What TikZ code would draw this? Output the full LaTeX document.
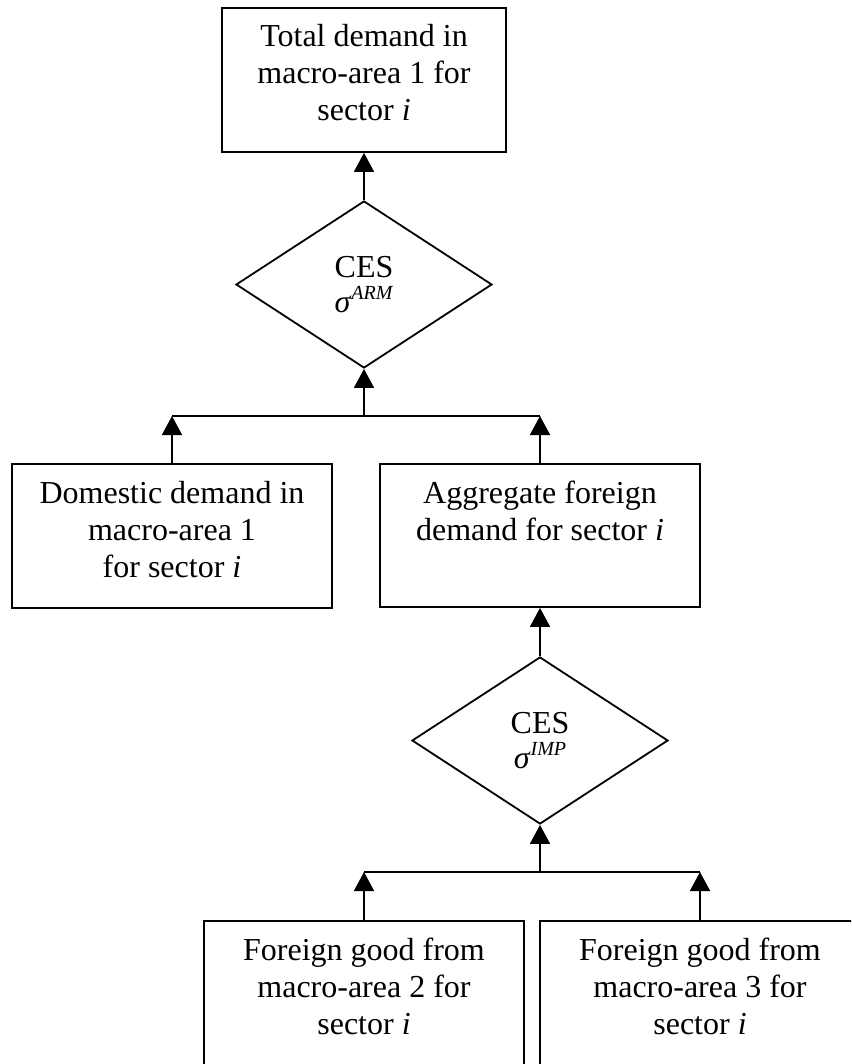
\documentclass[tikz,border=0pt]{standalone}
\usepackage{fontspec}
\setmainfont{Liberation Serif}
\usetikzlibrary{arrows.meta,shapes.geometric}
\newcommand\boxtext[3]{\parbox[c][#2pt][t]{#1pt}{\centering\rule{0pt}{39pt}#3\par}}
\newcommand\supr[1]{\raisebox{13pt}{\fontsize{20}{20}\selectfont\textit{#1}}}
\begin{document}
\begin{tikzpicture}[x=1pt,y=-1pt,
  line/.style={line width=1.8pt},
  arr/.style={line, -{Triangle[width=20pt,length=19pt]}},
  box/.style={draw, line width=1.8pt, inner sep=0pt, font=\fontsize{32}{37}\selectfont},
  ces/.style={draw, diamond, line width=1.8pt, inner sep=0pt, minimum width=256pt, minimum height=167pt, align=center, font=\fontsize{32}{35}\selectfont}]
\useasboundingbox (0,0) rectangle (851,1064);
\clip (0,0) rectangle (851,1064);

\node[box] (T) at (364,80) {\boxtext{284}{144}{Total demand in\\macro-area 1 for\\sector \textit{i}}};
\node[ces] (C1) at (364,284.5) {CES\\\textit{σ}\supr{ARM}};
\node[box] (D) at (172,536) {\boxtext{320}{144}{Domestic demand in\\macro-area 1\\for sector \textit{i}}};
\node[box] (A) at (540,535.5) {\boxtext{320}{143}{Aggregate foreign\\demand for sector \textit{i}}};
\node[ces] (C2) at (540,740.5) {CES\\\textit{σ}\supr{IMP}};
\node[box] (F1) at (364,996) {\boxtext{320}{150}{Foreign good from\\macro-area 2 for\\sector \textit{i}}};
\node[box] (F2) at (700,996) {\boxtext{320}{150}{Foreign good from\\macro-area 3 for\\sector \textit{i}}};

\coordinate (J1) at (364,416);
\coordinate (J2) at (540,872);

\draw[arr] (C1.north) -- (T.south);
\draw[arr] (J1) -- (C1.south);
\draw[line] (D.north |- J1) -- (A.north |- J1);
\draw[arr] (D.north) -- (D.north |- J1);
\draw[arr] (A.north) -- (A.north |- J1);

\draw[arr] (C2.north) -- (A.south);
\draw[arr] (J2) -- (C2.south);
\draw[line] (F1.north |- J2) -- (F2.north |- J2);
\draw[arr] (F1.north) -- (F1.north |- J2);
\draw[arr] (F2.north) -- (F2.north |- J2);
\end{tikzpicture}
\end{document}
